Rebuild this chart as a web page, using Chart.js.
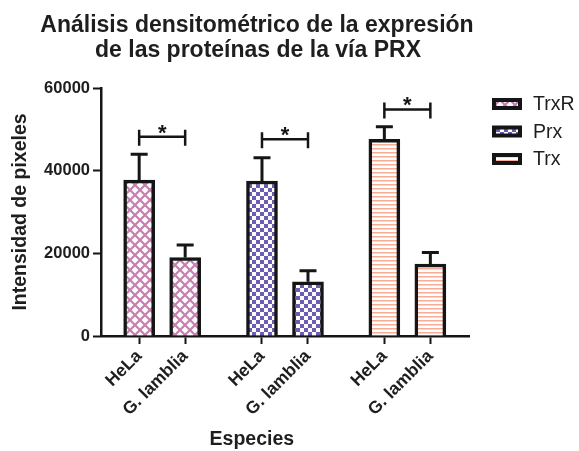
<!DOCTYPE html>
<html>
<head>
<meta charset="utf-8">
<script src="https://cdn.jsdelivr.net/npm/chart.js@4"></script>
<style>
    html, body { margin: 0; padding: 0; background: #fff; }
</style>
</head>
<body>
<canvas id="chart" width="579" height="451"></canvas>
<script>
const TITLE = ['Análisis densitométrico de la expresión', 'de las proteínas de la vía PRX'];
const Y_TITLE = 'Intensidad de pixeles';
const X_TITLE = 'Especies';
const SPECIES = ['HeLa', 'G. lamblia'];
const PROTEINS = ['TrxR', 'Prx', 'Trx'];

const TRXR_MEAN = [37700, 19000];
const TRXR_SEM = [6300, 3000];
const PRX_MEAN = [37500, 13100];
const PRX_SEM = [5600, 2700];
const TRX_MEAN = [47600, 17400];
const TRX_SEM = [3000, 2800];

// height of the "*" significance bracket over each pair
const SIG_Y = [48200, 47600, 54800];

const Y_MIN = 0;
const Y_MAX = 60000;
const Y_STEP = 20000;

// layout only: where each pair of bars sits on the x axis
const SLOTS = [[1, 2], [3.67, 4.67], [6.33, 7.33]];

const MEANS = [TRXR_MEAN, PRX_MEAN, TRX_MEAN];
const SEMS = [TRXR_SEM, PRX_SEM, TRX_SEM];
const FONT = '"Liberation Sans", Arial, sans-serif';
const INK = '#151515';
const TEXT = '#1e1e1e';

Chart.defaults.font.family = FONT;
Chart.defaults.color = TEXT;

function makePattern(kind, color) {
    const c = document.createElement('canvas');
    const g = c.getContext('2d');
    if (kind === 'cross') {
        c.width = c.height = 10;
        g.fillStyle = '#fff';
        g.fillRect(0, 0, 10, 10);
        g.strokeStyle = color;
        g.lineWidth = 2.2;
        g.beginPath();
        g.moveTo(-1, -1); g.lineTo(11, 11);
        g.moveTo(11, -1); g.lineTo(-1, 11);
        g.stroke();
    } else if (kind === 'checker') {
        c.width = c.height = 8;
        g.fillStyle = '#fff';
        g.fillRect(0, 0, 8, 8);
        g.fillStyle = color;
        g.fillRect(0, 0, 4, 4);
        g.fillRect(4, 4, 4, 4);
    } else {
        c.width = c.height = 4;
        g.fillStyle = '#fff';
        g.fillRect(0, 0, 4, 4);
        g.fillStyle = color;
        g.fillRect(0, 0, 4, 1.5);
    }
    return g.createPattern(c, 'repeat');
}

const patterns = [
    makePattern('cross', '#c67fb0'),
    makePattern('checker', '#6e5db2'),
    makePattern('lines', '#f6ad98'),
];

const annotate = {
    id: 'annotate',
    afterDatasetsDraw(chart) {
        const { ctx, scales: { x, y } } = chart;
        ctx.save();
        ctx.strokeStyle = INK;
        ctx.fillStyle = INK;

        // error bars (upper only)
        ctx.lineWidth = 3;
        SEMS.forEach((sem, i) => sem.forEach((s, j) => {
            const px = x.getPixelForValue(SLOTS[i][j]);
            const base = y.getPixelForValue(MEANS[i][j]);
            const top = y.getPixelForValue(MEANS[i][j] + s);
            ctx.beginPath();
            ctx.moveTo(px, base);
            ctx.lineTo(px, top);
            ctx.moveTo(px - 8.5, top);
            ctx.lineTo(px + 8.5, top);
            ctx.stroke();
        }));

        // significance brackets
        ctx.lineWidth = 2.5;
        ctx.font = 'bold 22px ' + FONT;
        ctx.textAlign = 'center';
        ctx.textBaseline = 'alphabetic';
        SIG_Y.forEach((v, i) => {
            const a = x.getPixelForValue(SLOTS[i][0]);
            const b = x.getPixelForValue(SLOTS[i][1]);
            const py = y.getPixelForValue(v);
            ctx.beginPath();
            ctx.moveTo(a, py - 7); ctx.lineTo(a, py + 9);
            ctx.moveTo(b, py - 7); ctx.lineTo(b, py + 9);
            ctx.moveTo(a, py); ctx.lineTo(b, py);
            ctx.stroke();
            ctx.fillText('*', (a + b) / 2, py + 3);
        });
        ctx.restore();
    },
    afterDraw(chart) {
        const { ctx, scales: { x } } = chart;
        ctx.save();
        ctx.fillStyle = TEXT;
        ctx.textAlign = 'center';
        ctx.textBaseline = 'alphabetic';

        // title, centred over the plot plus axis labels
        ctx.font = 'bold 23px ' + FONT;
        ctx.fillText(TITLE[0], 257, 32);
        ctx.fillText(TITLE[1], 258, 57);

        // x axis title sits left of centre in the original
        ctx.font = 'bold 19.5px ' + FONT;
        ctx.textBaseline = 'middle';
        ctx.fillText(X_TITLE, x.getPixelForValue(3.45), 440);

        // legend
        ctx.textAlign = 'left';
        ctx.font = '19.5px ' + FONT;
        chart.data.datasets.forEach((ds, i) => {
            const cy = 104 + i * 27.5;
            ctx.fillStyle = ds.backgroundColor;
            ctx.fillRect(494, cy - 4, 26, 8);
            ctx.strokeStyle = INK;
            ctx.lineWidth = 4;
            ctx.strokeRect(494, cy - 4, 26, 8);
            ctx.fillStyle = TEXT;
            ctx.fillText(ds.label, 533, cy + 1);
        });
        ctx.restore();
    },
};

new Chart(document.getElementById('chart'), {
    type: 'bar',
    data: {
        datasets: PROTEINS.map((p, i) => ({
            label: p,
            data: MEANS[i].map((v, j) => ({ x: SLOTS[i][j], y: v })),
            backgroundColor: patterns[i],
            borderColor: INK,
            borderWidth: 3.5,
            barThickness: 31,
            grouped: false,
        })),
    },
    options: {
        responsive: false,
        animation: false,
        layout: { padding: { left: 9, right: 110, top: 88, bottom: 29 } },
        plugins: {
            title: { display: false },
            legend: { display: false },
            tooltip: { enabled: false },
        },
        scales: {
            x: {
                type: 'linear',
                min: 0.17,
                max: 8.17,
                offset: false,
                afterBuildTicks: (scale) => {
                    scale.ticks = SLOTS.flat().map(v => ({ value: v }));
                },
                ticks: {
                    autoSkip: false,
                    minRotation: 45,
                    maxRotation: 45,
                    padding: 2,
                    color: TEXT,
                    font: { size: 17.5, weight: 'bold' },
                    callback: (v, i) => SPECIES[i % 2],
                },
                grid: { offset: false, drawOnChartArea: false, tickLength: 8, tickWidth: 2, tickColor: INK },
                border: { color: INK, width: 2.5 },
            },
            y: {
                min: Y_MIN,
                max: Y_MAX,
                ticks: {
                    stepSize: Y_STEP,
                    padding: 3,
                    color: TEXT,
                    font: { size: 16.5, weight: 'bold' },
                    callback: (v) => String(v),
                },
                title: {
                    display: true,
                    text: Y_TITLE,
                    color: TEXT,
                    font: { size: 19.5, weight: 'bold' },
                    padding: { top: 0, bottom: 8.7 },
                },
                grid: { drawOnChartArea: false, tickLength: 8, tickWidth: 2, tickColor: INK },
                border: { color: INK, width: 2.5 },
            },
        },
    },
    plugins: [annotate],
});
</script>
</body>
</html>
